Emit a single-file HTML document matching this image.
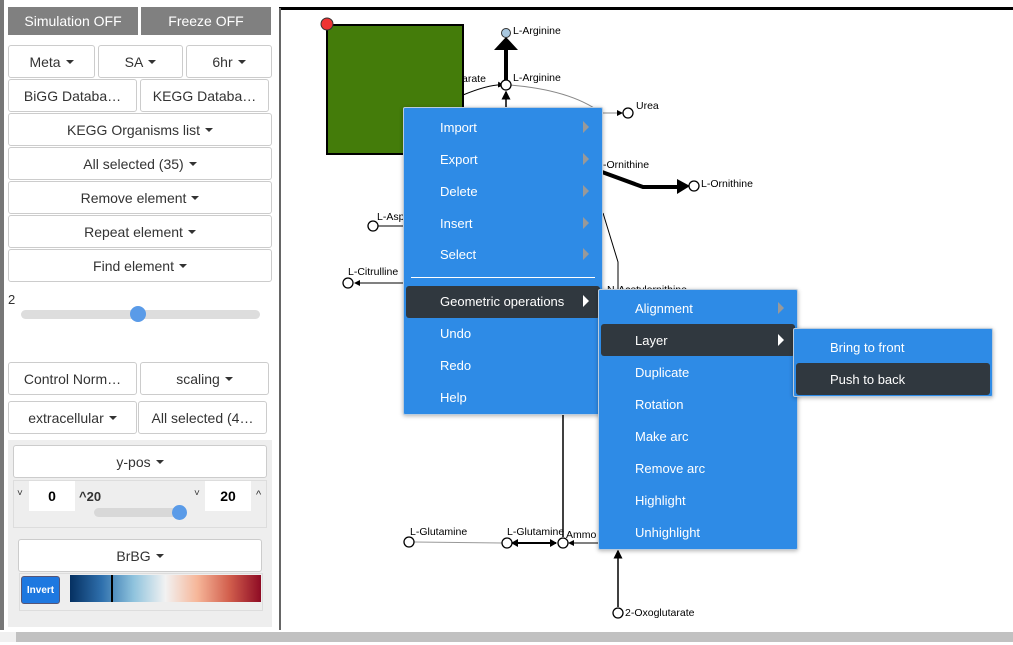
<!DOCTYPE html>
<html><head><meta charset="utf-8"><style>
*{box-sizing:border-box;margin:0;padding:0}
body{width:1013px;height:645px;overflow:hidden;background:#fff;font-family:"Liberation Sans",sans-serif;position:relative}
.a{position:absolute}
.b{position:absolute;border:1px solid #ccc;border-radius:3px;background:#fff;color:#333;font-size:14px;display:flex;align-items:center;justify-content:center;white-space:nowrap}
.c::after{content:"";display:inline-block;margin-left:5px;border-left:4px solid transparent;border-right:4px solid transparent;border-top:4px solid #333;vertical-align:middle}
.g{position:absolute;background:#808080;color:#fff;font-size:14px;display:flex;align-items:center;justify-content:center}
.m{position:absolute;background:#2e8be6;border:1px solid #bcd;box-shadow:0 1px 4px rgba(0,0,0,.3);border-radius:2px}
.i{position:absolute;color:#fff;font-size:13px;height:32px;line-height:34px}
.d{position:absolute;background:#30383f;border-radius:3px}
.ar{position:absolute;width:0;height:0;border-top:6px solid transparent;border-bottom:6px solid transparent;border-left:6px solid #999}
.aw{border-left-color:#fff}
text{font-size:10.5px}
</style></head><body>
<div class="a" style="left:0;top:0;width:4px;height:630px;background:#777"></div>
<div class="g" style="left:8px;top:7px;width:130px;height:28px">Simulation OFF</div>
<div class="g" style="left:141px;top:7px;width:130px;height:28px">Freeze OFF</div>
<div class="b c" style="left:8px;top:45px;width:87px;height:33px">Meta</div>
<div class="b c" style="left:98px;top:45px;width:85px;height:33px">SA</div>
<div class="b c" style="left:186px;top:45px;width:86px;height:33px">6hr</div>
<div class="b" style="left:8px;top:79px;width:129px;height:33px">BiGG Databa…</div>
<div class="b" style="left:140px;top:79px;width:129px;height:33px">KEGG Databa…</div>
<div class="b c" style="left:8px;top:113px;width:264px;height:33px">KEGG Organisms list</div>
<div class="b c" style="left:8px;top:147px;width:264px;height:33px">All selected (35)</div>
<div class="b c" style="left:8px;top:181px;width:264px;height:33px">Remove element</div>
<div class="b c" style="left:8px;top:215px;width:264px;height:33px">Repeat element</div>
<div class="b c" style="left:8px;top:249px;width:264px;height:33px">Find element</div>
<div class="a" style="left:8px;top:292px;font-size:13px;color:#333">2</div>
<div class="a" style="left:21px;top:310px;width:239px;height:9px;background:#ddd;border-radius:5px"></div>
<div class="a" style="left:130px;top:306px;width:16px;height:16px;background:#5a9be8;border-radius:50%"></div>
<div class="b" style="left:8px;top:362px;width:129px;height:33px">Control Norm…</div>
<div class="b c" style="left:140px;top:362px;width:129px;height:33px">scaling</div>
<div class="b c" style="left:8px;top:401px;width:129px;height:33px">extracellular</div>
<div class="b" style="left:138px;top:401px;width:129px;height:33px">All selected (4…</div>
<div class="a" style="left:8px;top:440px;width:264px;height:187px;background:#eee"></div>
<div class="b c" style="left:13px;top:445px;width:254px;height:33px">y-pos</div>
<div class="a" style="left:13px;top:480px;width:254px;height:48px;border:1px solid #ddd"></div>
<div class="a" style="left:17px;top:488px;font-size:10px;color:#333">˅</div>
<div class="a" style="left:29px;top:481px;width:46px;height:30px;background:#fff;font-size:14px;font-weight:bold;display:flex;align-items:center;justify-content:center">0</div>
<div class="a" style="left:79px;top:489px;font-size:13px;font-weight:bold;color:#333">^20</div>
<div class="a" style="left:194px;top:488px;font-size:10px;color:#333">˅</div>
<div class="a" style="left:205px;top:481px;width:46px;height:30px;background:#fff;font-size:14px;font-weight:bold;display:flex;align-items:center;justify-content:center">20</div>
<div class="a" style="left:256px;top:489px;font-size:11px;color:#333">^</div>
<div class="a" style="left:94px;top:508px;width:92px;height:9px;background:#d8d8d8;border-radius:5px"></div>
<div class="a" style="left:172px;top:505px;width:15px;height:15px;background:#5a9be8;border-radius:50%"></div>
<div class="b c" style="left:18px;top:539px;width:244px;height:33px">BrBG</div>
<div class="a" style="left:19px;top:573px;width:244px;height:38px;border:1px solid #ddd"></div>
<div class="a" style="left:21px;top:576px;width:39px;height:28px;background:#1e78e0;border:1px solid #557;border-radius:3px;color:#fff;font-size:10px;font-weight:bold;display:flex;align-items:center;justify-content:center">Invert</div>
<div class="a" style="left:70px;top:575px;width:191px;height:27px;background:linear-gradient(90deg,#053061,#2f70ad,#8fc3dd,#f2f2f2,#f6b699,#d25f4d,#8e0b24)"></div>
<div class="a" style="left:111px;top:575px;width:2px;height:27px;background:#000"></div>
<div class="a" style="left:8px;top:632px;width:1005px;height:10px;background:#c1c1c1"></div>
<div class="a" style="left:0;top:632px;width:16px;height:10px;background:#f0f0f0"></div>

<div class="a" style="left:279px;top:7px;width:734px;height:3px;background:#000"></div>
<div class="a" style="left:279px;top:8px;width:2px;height:622px;background:#666"></div>

<svg class="a" style="left:0;top:0" width="1013" height="645">
<defs><marker id="ah" markerWidth="6" markerHeight="6" refX="5" refY="3" orient="auto"><path d="M0,0L6,3L0,6z" fill="#000"/></marker></defs>
<rect x="327" y="25" width="136" height="129" fill="#447c0a" stroke="#000" stroke-width="2"/>
<circle cx="327" cy="24" r="6" fill="#e33" stroke="#333"/>
<path d="M463,95 Q490,84 503,85" fill="none" stroke="#000" marker-end="url(#ah)"/>
<path d="M510,85 Q570,90 600,112" fill="none" stroke="#888"/>
<line x1="506" y1="110" x2="506" y2="92" stroke="#000" stroke-width="1.5" marker-end="url(#ah)"/>
<line x1="506" y1="80" x2="506" y2="50" stroke="#000" stroke-width="4"/>
<path d="M494,50L506,37L518,50z" fill="#000"/>
<circle cx="506" cy="33" r="4.5" fill="#a9c8e0" stroke="#333"/>
<circle cx="506" cy="85" r="5" fill="#fff" stroke="#000" stroke-width="1.3"/>
<text x="513" y="34">L-Arginine</text>
<text x="513" y="81">L-Arginine</text>
<text x="462" y="82">arate</text>
<line x1="600" y1="113" x2="622" y2="113" stroke="#888" marker-end="url(#ah)"/>
<circle cx="628" cy="113" r="5" fill="#fff" stroke="#000" stroke-width="1.3"/>
<text x="636" y="109">Urea</text>
<text x="603" y="168">-Ornithine</text>
<path d="M602,172L643,187L678,187" stroke="#000" stroke-width="4" fill="none"/>
<path d="M677,179L690,186L677,194z" fill="#000"/>
<circle cx="694" cy="186" r="5" fill="#fff" stroke="#000" stroke-width="1.3"/>
<text x="701" y="187">L-Ornithine</text>
<line x1="378" y1="226" x2="403" y2="226" stroke="#000"/>
<circle cx="373" cy="226" r="5" fill="#fff" stroke="#000" stroke-width="1.3"/>
<text x="377" y="220">L-Asp</text>
<line x1="403" y1="283" x2="355" y2="283" stroke="#000" marker-end="url(#ah)"/>
<circle cx="348" cy="283" r="5" fill="#fff" stroke="#000" stroke-width="1.3"/>
<text x="348" y="275">L-Citrulline</text>
<path d="M603,213L618,262L618,295" stroke="#000" fill="none"/>
<text x="607" y="293">N-Acetylornithine</text>
<line x1="563" y1="414" x2="563" y2="537" stroke="#000" stroke-width="1.5"/>
<line x1="414" y1="542" x2="502" y2="543" stroke="#999"/>
<circle cx="409" cy="542" r="5" fill="#fff" stroke="#000" stroke-width="1.3"/>
<text x="410" y="535">L-Glutamine</text>
<line x1="512" y1="543" x2="556" y2="543" stroke="#000" stroke-width="2"/>
<path d="M518,539L511,543L518,547z M550,539L557,543L550,547z" fill="#000"/>
<circle cx="507" cy="543" r="5" fill="#fff" stroke="#000" stroke-width="1.3"/>
<text x="507" y="535">L-Glutamine</text>
<line x1="600" y1="543" x2="569" y2="543" stroke="#000" marker-end="url(#ah)"/>
<circle cx="563" cy="543" r="5" fill="#fff" stroke="#000" stroke-width="1.3"/>
<text x="566" y="538">Ammo</text>
<line x1="618" y1="607" x2="618" y2="551" stroke="#000" stroke-width="1.5" marker-end="url(#ah)"/>
<circle cx="618" cy="613" r="5" fill="#fff" stroke="#000" stroke-width="1.3"/>
<text x="625" y="616">2-Oxoglutarate</text>
</svg>

<div class="m" style="left:403px;top:107px;width:200px;height:308px"></div>
<div class="i" style="left:440px;top:111px">Import</div><div class="ar" style="left:583px;top:121px"></div>
<div class="i" style="left:440px;top:143px">Export</div><div class="ar" style="left:583px;top:153px"></div>
<div class="i" style="left:440px;top:175px">Delete</div><div class="ar" style="left:583px;top:185px"></div>
<div class="i" style="left:440px;top:207px">Insert</div><div class="ar" style="left:583px;top:217px"></div>
<div class="i" style="left:440px;top:238px">Select</div><div class="ar" style="left:583px;top:248px"></div>
<div class="a" style="left:411px;top:277px;width:184px;height:1px;background:#fff"></div>
<div class="d" style="left:406px;top:286px;width:194px;height:32px"></div>
<div class="i" style="left:440px;top:285px">Geometric operations</div><div class="ar aw" style="left:583px;top:295px"></div>
<div class="i" style="left:440px;top:317px">Undo</div>
<div class="i" style="left:440px;top:349px">Redo</div>
<div class="i" style="left:440px;top:381px">Help</div>

<div class="m" style="left:598px;top:289px;width:200px;height:261px"></div>
<div class="i" style="left:635px;top:292px">Alignment</div><div class="ar" style="left:778px;top:302px"></div>
<div class="d" style="left:601px;top:324px;width:194px;height:32px"></div>
<div class="i" style="left:635px;top:324px">Layer</div><div class="ar aw" style="left:778px;top:334px"></div>
<div class="i" style="left:635px;top:356px">Duplicate</div>
<div class="i" style="left:635px;top:388px">Rotation</div>
<div class="i" style="left:635px;top:420px">Make arc</div>
<div class="i" style="left:635px;top:452px">Remove arc</div>
<div class="i" style="left:635px;top:484px">Highlight</div>
<div class="i" style="left:635px;top:516px">Unhighlight</div>

<div class="m" style="left:793px;top:328px;width:200px;height:69px"></div>
<div class="i" style="left:830px;top:331px">Bring to front</div>
<div class="d" style="left:796px;top:363px;width:194px;height:32px"></div>
<div class="i" style="left:830px;top:363px">Push to back</div>
</body></html>
